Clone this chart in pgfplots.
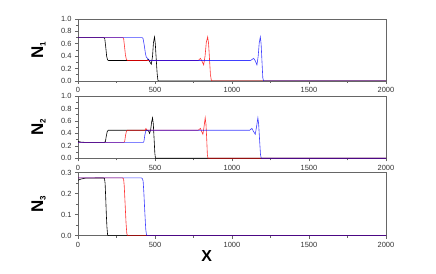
\documentclass[border=0pt]{standalone}
\usepackage{fontspec}
\setmainfont{Liberation Sans}
\usepackage{pgfplots}
\pgfplotsset{compat=1.18}
\definecolor{axgray}{gray}{0.4}
\pgfplotsset{
  panel/.style={
    scale only axis, width=308bp,
    xmin=0, xmax=2000,
    xtick={0,500,1000,1500,2000}, minor x tick num=1,
    tick align=outside, xtick pos=bottom, ytick pos=left,
    major tick length=3bp, minor tick length=2bp,
    axis line style={draw=axgray, line width=0.7bp},
    every tick/.style={axgray, line width=0.6bp},
    tick label style={font=\fontsize{7.5}{9}\selectfont, text=black!80},
    /pgf/number format/assume math mode=true,
    xticklabel style={/pgf/number format/1000 sep={}},
    yticklabel style={/pgf/number format/.cd, fixed, fixed zerofill, precision=1},
    ylabel style={at={(axis description cs:-0.128,0.5)}, anchor=center},
    every axis plot/.append style={line width=0.6bp},
  },
}
\newcommand{\Nlab}[1]{\fontsize{17}{19}\selectfont\bfseries N\textsubscript{\fontsize{8}{9}\selectfont #1}}
\begin{document}
\begin{tikzpicture}
\useasboundingbox (0,0) rectangle (436bp,274bp);
% Panel 1
\begin{axis}[panel, at={(78bp,193bp)}, anchor=south west, height=62bp,
  ymin=0, ymax=1, ytick={0,0.2,0.4,0.6,0.8,1.0}, minor y tick num=1,
  ylabel={\Nlab{1}}]
\addplot[black, no markers] coordinates {(0,0.70) (168,0.70) (174,0.68) (180,0.55) (186,0.40) (192,0.34) (198,0.33) (445,0.33) (458,0.35) (466,0.31) (476,0.27) (484,0.40) (490,0.62) (497,0.71) (502,0.60) (508,0.35) (514,0.12) (519,0.01) (524,0) (2000,0)};
\addplot[red, opacity=0.8, no markers] coordinates {(0,0.70) (290,0.70) (296,0.69) (302,0.56) (308,0.42) (314,0.35) (320,0.33) (780,0.33) (795,0.365) (805,0.32) (816,0.26) (825,0.40) (833,0.62) (842,0.71) (848,0.60) (854,0.35) (860,0.10) (866,0.01) (872,0) (2000,0)};
\addplot[blue, opacity=0.75, no markers] coordinates {(0,0.70) (415,0.70) (422,0.69) (430,0.58) (438,0.44) (444,0.38) (450,0.37) (458,0.345) (466,0.33) (1120,0.33) (1141,0.365) (1150,0.33) (1162,0.26) (1170,0.40) (1177,0.62) (1184,0.71) (1189,0.60) (1195,0.30) (1200,0.05) (1205,0) (2000,0)};
\end{axis}
% Panel 2
\begin{axis}[panel, at={(78bp,115.7bp)}, anchor=south west, height=62.3bp,
  ymin=0, ymax=1, ytick={0,0.2,0.4,0.6,0.8,1.0}, minor y tick num=1,
  ylabel={\Nlab{2}}]
\addplot[black, no markers] coordinates {(0,0.27) (20,0.26) (50,0.255) (172,0.255) (178,0.27) (184,0.36) (190,0.43) (196,0.45) (450,0.45) (458,0.44) (465,0.40) (472,0.46) (478,0.58) (484,0.65) (489,0.55) (494,0.32) (499,0.08) (503,0) (2000,0)};
\addplot[red, opacity=0.8, no markers] coordinates {(0,0.255) (298,0.255) (303,0.27) (309,0.37) (314,0.43) (320,0.45) (435,0.45) (441,0.48) (448,0.45) (780,0.45) (795,0.48) (803,0.43) (811,0.385) (818,0.50) (826,0.65) (831,0.55) (836,0.30) (840,0.06) (844,0) (2000,0)};
\addplot[blue, opacity=0.75, no markers] coordinates {(0,0.255) (424,0.255) (428,0.27) (434,0.37) (439,0.43) (444,0.45) (1115,0.45) (1129,0.48) (1140,0.43) (1151,0.385) (1159,0.50) (1168,0.65) (1173,0.55) (1179,0.30) (1185,0.06) (1190,0) (2000,0)};
\end{axis}
% Panel 3
\begin{axis}[panel, at={(78bp,38.3bp)}, anchor=south west, height=63bp,
  ymin=0, ymax=0.3, ytick={0,0.1,0.2,0.3}, minor y tick num=1,
  ylabel={\Nlab{3}},
  xlabel={\fontsize{16}{18}\selectfont\bfseries X},
  xlabel style={at={(axis description cs:0.4175,0)}, anchor=center, yshift=-20bp}]
\addplot[black, no markers] coordinates {(0,0.264) (20,0.27) (47,0.274) (165,0.275) (172,0.272) (176,0.25) (180,0.18) (184,0.10) (188,0.04) (192,0.005) (196,0) (2000,0)};
\addplot[red, opacity=0.8, no markers] coordinates {(0,0.275) (290,0.275) (296,0.27) (300,0.24) (306,0.15) (312,0.06) (317,0.01) (322,0) (2000,0)};
\addplot[blue, opacity=0.75, no markers] coordinates {(0,0.275) (412,0.275) (418,0.272) (423,0.26) (428,0.20) (434,0.11) (440,0.03) (445,0.003) (450,0) (2000,0)};
\end{axis}
\end{tikzpicture}
\end{document}
